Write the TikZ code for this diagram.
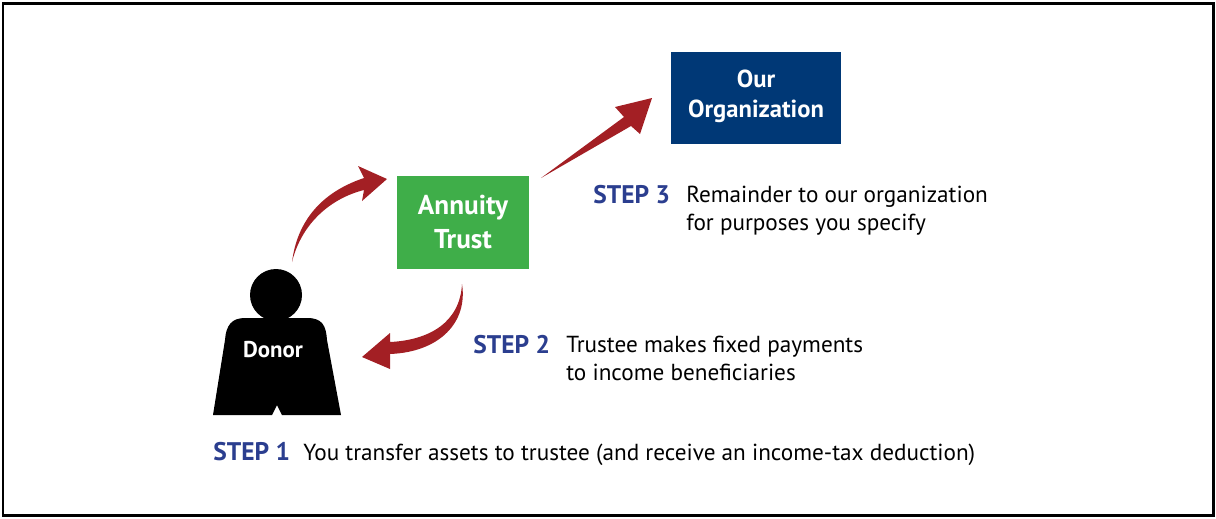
\documentclass[tikz,border=0pt]{standalone}
\usepackage{fontspec}
\setmainfont{PT Sans}
\definecolor{navy}{HTML}{003876}
\definecolor{tgreen}{HTML}{3FAE49}
\definecolor{ared}{HTML}{A31F24}
\definecolor{stepblue}{HTML}{2B3E8F}
\tikzset{
  boxtext/.style={text=white,font=\bfseries\fontsize{14}{17}\selectfont,align=center},
  steplabel/.style={anchor=base west,text=stepblue,font=\bfseries\fontsize{14.5}{17}\selectfont,inner sep=0},
  desc/.style={anchor=base west,font=\fontsize{13.2}{15.4}\selectfont,align=left,inner sep=0},
  arr/.style={fill=ared,draw=none}
}
\begin{document}
\begin{tikzpicture}[x=0.02cm,y=-0.02cm]
\useasboundingbox (0,0) rectangle (1216,518);
\draw[line width=0.06cm] (3,3) rectangle (1213,515);
% boxes
\fill[navy] (671,52) rectangle (841,144);
\node[boxtext] (org) at (756,96) {Our\\Organization};
\fill[tgreen] (397,176) rectangle (529,269);
\node[boxtext,font=\bfseries\fontsize{15.5}{19}\selectfont] (trust) at (463,222) {Annuity\\Trust};
% donor
\fill (276,295) circle (26);
\fill (245,318) -- (307,318) .. controls (322,318) and (326,325) .. (327,340)
  -- (341,415) -- (282,415) -- (277,405) -- (272,415) -- (213,415) -- (225,340)
  .. controls (226,325) and (232,318) .. (245,318) -- cycle;
\node[text=white,font=\bfseries\fontsize{13}{15}\selectfont] (donor) at (273,350) {Donor};
% arrows
\fill[arr] (292,262) .. controls (298,215) and (328,190) .. (364,178)
  -- (358,166) -- (387,179) -- (362,201) -- (364,190)
  .. controls (332,198) and (302,222) .. (292,262) -- cycle;
\fill[arr] (462,284) .. controls (460,322) and (430,340) .. (390,342)
  -- (390,333) -- (362,357) -- (390,369) -- (390,354)
  .. controls (440,352) and (468,322) .. (462,284) -- cycle;
\fill[arr] (541,178) -- (624,117) -- (615,107) -- (652,98) -- (640,134) -- (631,126) -- cycle;
% text
\node[steplabel] (s3) at (593,203) {STEP 3};
\node[desc] (d3) at (686,230) {Remainder to our organization\\for purposes you specify};
\node[steplabel] (s2) at (473,353) {STEP 2};
\node[desc] (d2) at (566,380) {Trustee makes fixed payments\\to income beneficiaries};
\node[steplabel] (s1) at (213,460) {STEP 1};
\node[desc] (d1) at (303,460) {You transfer assets to trustee (and receive an income-tax deduction)};
\end{tikzpicture}
\end{document}
